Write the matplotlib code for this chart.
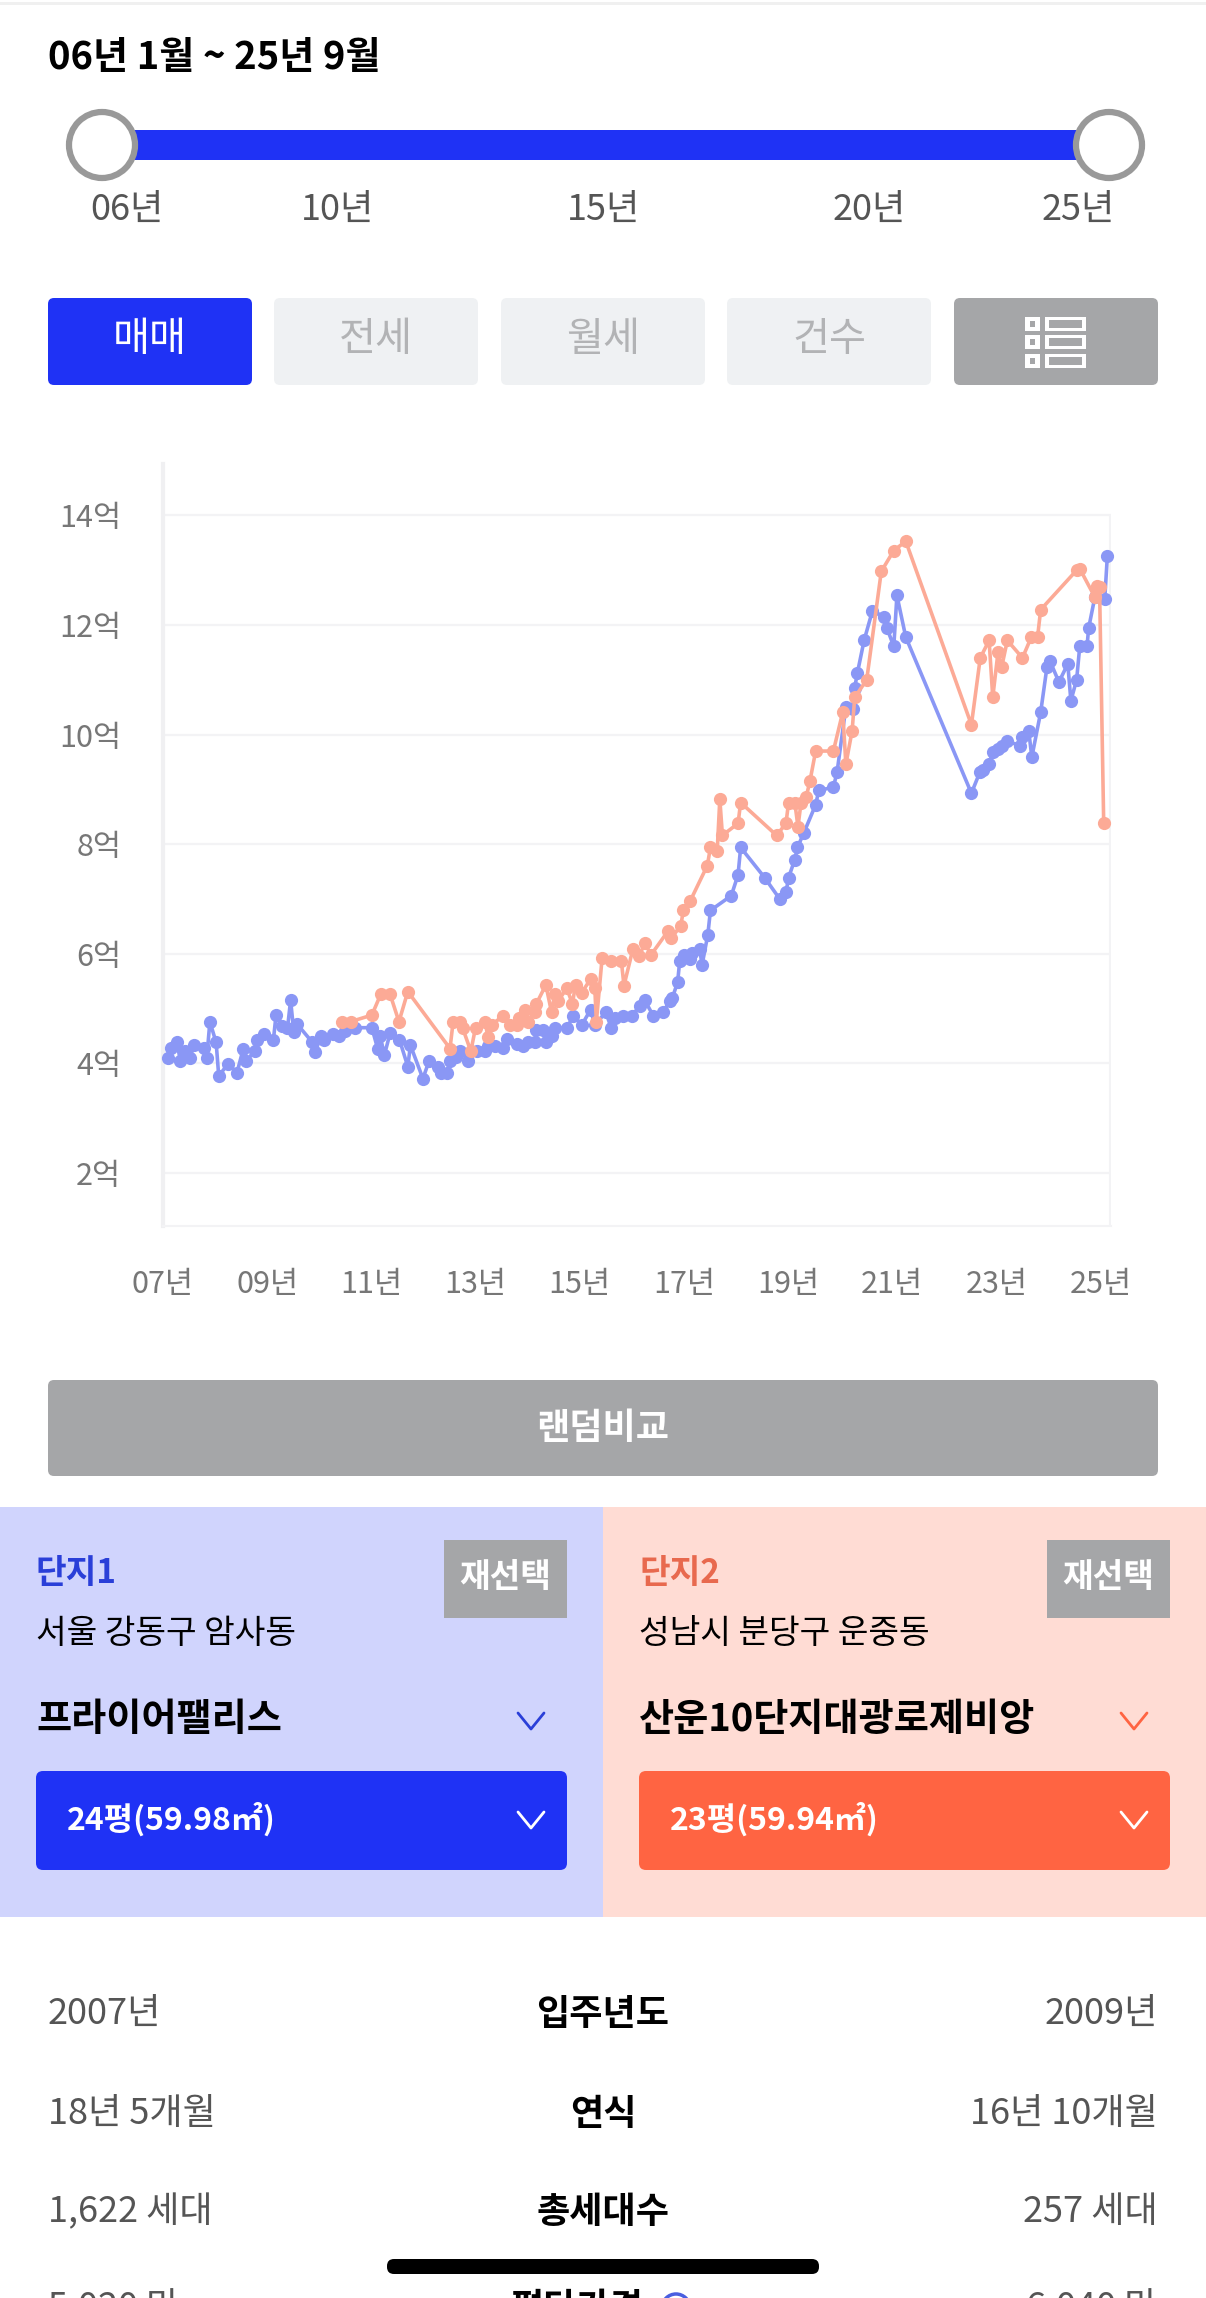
import matplotlib
matplotlib.use("Agg")
import matplotlib.pyplot as plt
from matplotlib.patches import Rectangle, FancyBboxPatch, Circle

plt.rcParams['font.family'] = ['Noto Sans CJK KR', 'DejaVu Sans']

# ---------- data ----------
blue_x = [2007.09,2007.15,2007.27,2007.33,2007.42,2007.51,2007.60,2007.79,2007.84,2007.90,2008.02,2008.07,2008.25,2008.42,
          2008.54,2008.59,2008.77,2008.80,2008.94,2009.12,2009.17,2009.28,2009.39,2009.45,2009.51,2009.58,2009.87,2009.92,
          2010.03,2010.10,2010.27,2010.38,2010.49,2010.69,2011.01,2011.12,2011.17,2011.25,2011.36,2011.54,2011.70,2011.75,
          2011.99,2012.11,2012.28,2012.34,2012.46,2012.51,2012.62,2012.70,2012.86,2013.02,2013.18,2013.24,2013.37,2013.53,
          2013.60,2013.79,2013.92,2014.01,2014.14,2014.17,2014.30,2014.36,2014.46,2014.52,2014.75,2014.88,2015.04,2015.21,
          2015.29,2015.50,2015.61,2015.68,2015.84,2016.00,2016.16,2016.25,2016.41,2016.60,2016.73,2016.78,2016.88,2016.92,
          2017.01,2017.12,2017.16,2017.30,2017.35,2017.46,2017.51,2017.91,2018.04,2018.09,2018.55,2018.84,2018.96,2019.01,
          2019.13,2019.18,2019.30,2019.53,2019.59,2019.87,2019.94,2020.11,2020.24,2020.28,2020.33,2020.46,2020.62,2020.85,
          2020.90,2021.03,2021.09,2021.26,2022.52,2022.68,2022.75,2022.86,2022.93,2023.03,2023.10,2023.21,2023.45,2023.50,
          2023.62,2023.68,2023.85,2023.97,2024.03,2024.20,2024.37,2024.43,2024.54,2024.60,2024.74,2024.77,2024.89,2025.08,
          2025.13]
blue_y = [4.09,4.28,4.39,4.05,4.22,4.09,4.33,4.28,4.09,4.76,4.38,3.77,3.99,3.83,
          4.26,4.05,4.22,4.43,4.54,4.43,4.88,4.68,4.64,5.15,4.58,4.71,4.38,4.20,
          4.49,4.43,4.54,4.49,4.59,4.65,4.65,4.27,4.50,4.15,4.55,4.43,3.94,4.33,
          3.72,4.05,3.94,3.83,3.83,4.05,4.11,4.23,4.05,4.22,4.22,4.32,4.32,4.28,
          4.44,4.35,4.32,4.38,4.38,4.61,4.61,4.38,4.50,4.65,4.64,4.87,4.70,4.98,
          4.70,4.93,4.64,4.82,4.87,4.87,5.05,5.15,4.87,4.93,5.14,5.20,5.48,5.87,
          5.98,5.90,6.02,6.09,5.80,6.35,6.79,7.06,7.44,7.94,7.39,7.00,7.12,7.39,
          7.72,7.94,8.20,8.72,8.98,9.04,9.31,10.50,10.47,10.86,11.12,11.72,12.26,12.15,
          11.94,11.61,12.54,11.78,8.93,9.31,9.35,9.46,9.69,9.74,9.80,9.88,9.80,9.96,
          10.07,9.59,10.41,11.23,11.34,10.96,11.29,10.62,11.00,11.61,11.61,11.94,12.51,12.48,
          13.26]

salmon_x = [2010.43,2010.60,2011.01,2011.18,2011.36,2011.53,2011.70,2012.51,2012.57,2012.70,2012.75,2012.91,2013.00,2013.18,
            2013.24,2013.31,2013.53,2013.66,2013.79,2013.83,2013.95,2014.01,2014.14,2014.17,2014.35,2014.46,2014.52,2014.59,
            2014.75,2014.86,2014.92,2015.04,2015.21,2015.29,2015.32,2015.43,2015.61,2015.80,2015.85,2016.02,2016.14,2016.25,
            2016.37,2016.70,2016.76,2016.94,2016.99,2017.12,2017.45,2017.51,2017.64,2017.69,2017.74,2018.04,2018.09,2018.78,
            2018.96,2019.01,2019.13,2019.19,2019.25,2019.35,2019.42,2019.53,2019.87,2020.05,2020.11,2020.23,2020.28,2020.51,
            2020.79,2021.03,2021.26,2022.52,2022.69,2022.86,2022.93,2023.03,2023.10,2023.21,2023.50,2023.67,2023.79,2023.85,
            2024.54,2024.60,2024.89,2024.94,2024.98,2025.06]
salmon_y = [4.76,4.76,4.88,5.26,5.26,4.76,5.31,4.27,4.76,4.76,4.65,4.22,4.65,4.76,
            4.48,4.70,4.87,4.70,4.70,4.82,4.98,4.76,4.93,5.09,5.43,4.93,5.26,5.14,
            5.37,5.09,5.43,5.29,5.54,5.37,4.76,5.92,5.86,5.86,5.42,6.08,5.96,6.19,
            5.98,6.42,6.29,6.51,6.79,6.96,7.61,7.94,7.88,8.82,8.16,8.38,8.76,8.16,
            8.38,8.76,8.76,8.32,8.76,8.87,9.15,9.70,9.70,10.41,9.46,10.07,10.68,11.00,
            12.98,13.36,13.53,10.18,11.40,11.72,10.68,11.50,11.23,11.72,11.40,11.78,11.78,12.28,
            13.00,13.03,12.51,12.71,12.69,8.38]

y_ticks = [2, 4, 6, 8, 10, 12, 14]
y_labels = ['2억', '4억', '6억', '8억', '10억', '12억', '14억']
x_ticks = [2007, 2009, 2011, 2013, 2015, 2017, 2019, 2021, 2023, 2025]
x_labels = ['07년', '09년', '11년', '13년', '15년', '17년', '19년', '21년', '23년', '25년']

slider_labels = [('06년', 127), ('10년', 337), ('15년', 603), ('20년', 869), ('25년', 1078)]
tabs = [('매매', 48, 252, '#1f32f5', 'white'), ('전세', 274, 478, '#eff1f3', '#b2b3b5'),
        ('월세', 501, 705, '#eff1f3', '#b2b3b5'), ('건수', 727, 931, '#eff1f3', '#b2b3b5')]
rows = [('2007년', '입주년도', '2009년', 2010, 603), ('18년 5개월', '연식', '16년 10개월', 2110, 603),
        ('1,622 세대', '총세대수', '257 세대', 2208, 603), ('5,020 만', '평단가격', '6,040 만', 2304, 577)]

W, H = 1206, 2298
BLUE, ORANGE, GRAY = '#1f32f5', '#ff6442', '#a5a6a8'

fig = plt.figure(figsize=(W / 100, H / 100), dpi=100, facecolor='white')
ui = fig.add_axes([0, 0, 1, 1])
ui.set_xlim(0, W)
ui.set_ylim(H, 0)
ui.axis('off')


def txt(x, y, s, size, color='black', ha='left', bold=False):
    ui.text(x, y + 4, s, fontsize=size, color=color, ha=ha, va='center',
            fontweight='bold' if bold else 'normal', clip_on=True)


def rect(x0, y0, x1, y1, color, z=1):
    ui.add_patch(Rectangle((x0, y0), x1 - x0, y1 - y0, fc=color, ec='none', zorder=z))


def rrect(x0, y0, x1, y1, color, r=6, z=1):
    ui.add_patch(FancyBboxPatch((x0 + r, y0 + r), x1 - x0 - 2 * r, y1 - y0 - 2 * r,
                                boxstyle=f'round,pad={r},rounding_size={r}', fc=color, ec='none', zorder=z))


def chevron(cx, cy, color):
    ui.plot([cx - 13, cx, cx + 13], [cy - 8, cy + 8, cy - 8], color=color, lw=2, solid_capstyle='round', zorder=3)


# top
rect(0, 2, W, 5, '#f0f0f0')
txt(48, 54, '06년 1월 ~ 25년 9월', 27.5, bold=True)

# slider
rect(102, 130, 1109, 160, BLUE)
for cx in (102, 1109):
    ui.add_patch(Circle((cx, 145), 33, fc='white', ec='#999999', lw=4.5, zorder=3))
for s, x in slider_labels:
    txt(x, 206, s, 26, '#555555', ha='center')

# tabs
for s, x0, x1, bg, fg in tabs:
    rrect(x0, 298, x1, 385, bg)
    txt((x0 + x1) / 2, 336, s, 29, fg, ha='center')
rrect(954, 298, 1158, 385, GRAY)
for y0 in (317, 335, 354):
    rect(1025, y0, 1040, y0 + 14, 'white', 2)
    rect(1030, y0 + 4, 1035, y0 + 10, GRAY, 3)
    rect(1045, y0, 1086, y0 + 14, 'white', 2)
    rect(1049, y0 + 3, 1082, y0 + 11, GRAY, 3)

# chart
ax = fig.add_axes([163 / W, 1 - 1226 / H, (1111 - 163) / W, (1226 - 464) / H])
ax.patch.set_alpha(0)
ax.set_xlim(2007, 2025.2)
ax.set_ylim(1.03, 14.94)
for side in ('top', 'right'):
    ax.spines[side].set_visible(False)
ax.spines['left'].set_color('#f0f0f2')
ax.spines['left'].set_linewidth(3)
ax.spines['bottom'].set_color('#f3f3f5')
ax.spines['bottom'].set_linewidth(1.5)
ax.grid(axis='y', color='#f3f3f5', lw=1.6)
ax.set_axisbelow(True)
ax.vlines(2025.2, 1.03, 14, color='#f3f3f5', lw=3)
ax.set_yticks(y_ticks, y_labels, fontsize=22, color='#777777')
ax.set_xticks(x_ticks, x_labels, fontsize=22, color='#777777')
ax.tick_params(axis='y', length=0, pad=30)
ax.tick_params(axis='x', length=0, pad=31)
ax.plot(blue_x, blue_y, '-o', color='#8a97f5', lw=2.6, ms=9.5, mew=0, clip_on=False, zorder=3)
ax.plot(salmon_x, salmon_y, '-o', color='#fcaa96', lw=2.6, ms=9.5, mew=0, clip_on=False, zorder=4)

# random compare
rrect(48, 1380, 1158, 1476, GRAY)
txt(603, 1424, '랜덤비교', 26, 'white', ha='center', bold=True)

# panels
panels = [(0, '#d0d4fd', '단지1', '#2a3fd8', '서울 강동구 암사동', '프라이어팰리스', BLUE, '24평(59.98㎡)', '#2a3fd8'),
          (603, '#ffdcd4', '단지2', '#e8694e', '성남시 분당구 운중동', '산운10단지대광로제비앙', ORANGE, '23평(59.94㎡)', ORANGE)]
for dx, bg, tag, tagc, addr, name, fill, size, chev in panels:
    rect(dx, 1507, dx + 603, 1917, bg)
    txt(dx + 36, 1569, tag, 24, tagc, bold=True)
    rect(dx + 444, 1540, dx + 567, 1618, GRAY, 2)
    txt(dx + 505.5, 1573, '재선택', 24, 'white', ha='center', bold=True)
    txt(dx + 36, 1630, addr, 24)
    txt(dx + 36, 1715, name, 27.5, bold=True)
    chevron(dx + 531, 1721, chev)
    rrect(dx + 36, 1771, dx + 567, 1870, fill, r=7, z=2)
    txt(dx + 67, 1816, size, 23, 'white', bold=True)
    chevron(dx + 531, 1820, 'white')

# table
for left, mid, right, y, mx in rows:
    txt(48, y, left, 26, '#555555')
    txt(mx, y, mid, 26, 'black', ha='center', bold=True)
    txt(1158, y, right, 26, '#555555', ha='right')
ui.add_patch(Circle((676, 2308), 14, fc='white', ec='#4a5fe0', lw=2.5, zorder=3))
rrect(387, 2259, 819, 2274, 'black', r=7, z=5)

fig.savefig('out.png', dpi=100, facecolor='white')
